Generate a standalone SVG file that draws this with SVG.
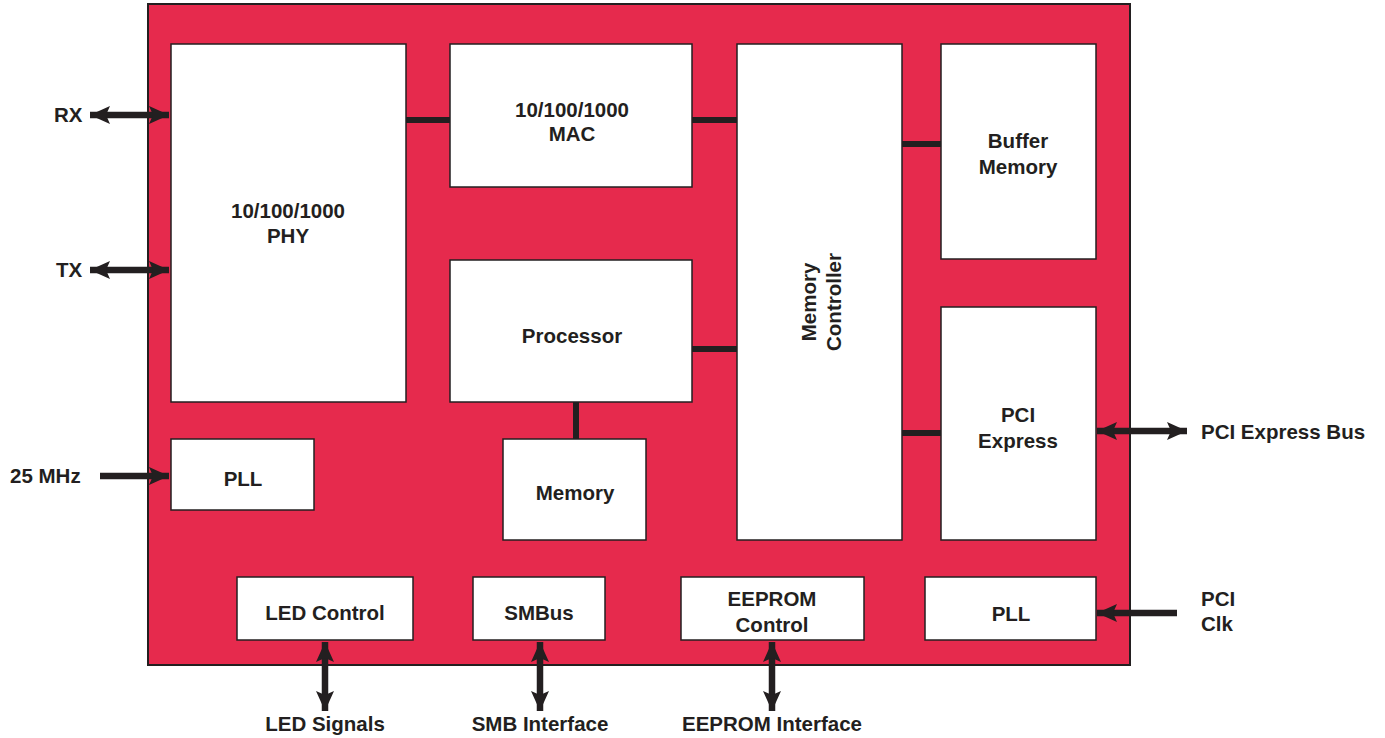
<svg xmlns="http://www.w3.org/2000/svg" width="1385" height="738" viewBox="0 0 1385 738">
<defs>
<style>
.box{fill:#fff;stroke:#231f20;stroke-width:1.5}
.t{font-family:"Liberation Sans",Arial,sans-serif;font-weight:bold;font-size:20.5px;fill:#231f20;text-anchor:middle;dominant-baseline:central}
.tl{font-family:"Liberation Sans",Arial,sans-serif;font-weight:bold;font-size:20.5px;fill:#231f20;dominant-baseline:central}
.bar{stroke:#231f20;stroke-width:6;fill:none}
.arr{stroke:#231f20;stroke-width:6.5;fill:none}
</style>
<marker id="ah" markerUnits="userSpaceOnUse" markerWidth="20" markerHeight="18" viewBox="0 0 20 18" refX="20" refY="9" orient="auto-start-reverse">
<path d="M0,0 L20,9 L0,18 L4,9 Z" fill="#231f20"/>
</marker>
</defs>
<rect x="0" y="0" width="1385" height="738" fill="#fff"/>
<g id="chip"><rect x="148" y="4" width="982" height="661" fill="#e62a4d" stroke="#231f20" stroke-width="2"/></g>

<g id="connectors">
<line class="bar" x1="406" y1="120" x2="450" y2="120"/>
<line class="bar" x1="692" y1="120" x2="737" y2="120"/>
<line class="bar" x1="692" y1="349" x2="737" y2="349"/>
<line class="bar" x1="576" y1="402" x2="576" y2="439"/>
<line class="bar" x1="902" y1="144" x2="941" y2="144"/>
<line class="bar" x1="902" y1="433" x2="941" y2="433"/>
<line class="arr" x1="90" y1="115" x2="169" y2="115" marker-start="url(#ah)" marker-end="url(#ah)"/>
<line class="arr" x1="90" y1="270" x2="169" y2="270" marker-start="url(#ah)" marker-end="url(#ah)"/>
<line class="arr" x1="100" y1="476" x2="169" y2="476" marker-end="url(#ah)"/>
<line class="arr" x1="1097" y1="431" x2="1187" y2="431" marker-start="url(#ah)" marker-end="url(#ah)"/>
<line class="arr" x1="1177" y1="613" x2="1097" y2="613" marker-end="url(#ah)"/>
<line class="arr" x1="325" y1="642" x2="325" y2="711" marker-start="url(#ah)" marker-end="url(#ah)"/>
<line class="arr" x1="540" y1="642" x2="540" y2="711" marker-start="url(#ah)" marker-end="url(#ah)"/>
<line class="arr" x1="772" y1="642" x2="772" y2="711" marker-start="url(#ah)" marker-end="url(#ah)"/>
</g>

<g id="phy"><rect class="box" x="171" y="44" width="235" height="358"/><text class="t" x="288" y="210">10/100/1000</text><text class="t" x="288" y="235">PHY</text></g>
<g id="mac"><rect class="box" x="450" y="44" width="242" height="143"/><text class="t" x="572" y="109">10/100/1000</text><text class="t" x="572" y="133">MAC</text></g>
<g id="memctrl"><rect class="box" x="737" y="44" width="165" height="496"/><text class="t" transform="translate(808,302) rotate(-90)">Memory</text><text class="t" transform="translate(833,302) rotate(-90)">Controller</text></g>
<g id="buffer"><rect class="box" x="941" y="44" width="155" height="215"/><text class="t" x="1018" y="140">Buffer</text><text class="t" x="1018" y="166">Memory</text></g>
<g id="processor"><rect class="box" x="450" y="260" width="242" height="142"/><text class="t" x="572" y="335">Processor</text></g>
<g id="pci"><rect class="box" x="941" y="307" width="155" height="233"/><text class="t" x="1018" y="414">PCI</text><text class="t" x="1018" y="440">Express</text></g>
<g id="pll1"><rect class="box" x="171" y="439" width="143" height="71"/><text class="t" x="243" y="478">PLL</text></g>
<g id="memory"><rect class="box" x="503" y="439" width="143" height="101"/><text class="t" x="575" y="492">Memory</text></g>
<g id="led"><rect class="box" x="237" y="577" width="176" height="63"/><text class="t" x="325" y="612">LED Control</text></g>
<g id="smbus"><rect class="box" x="473" y="577" width="132" height="63"/><text class="t" x="539" y="612">SMBus</text></g>
<g id="eeprom"><rect class="box" x="681" y="577" width="183" height="63"/><text class="t" x="772" y="598">EEPROM</text><text class="t" x="772" y="624">Control</text></g>
<g id="pll2"><rect class="box" x="925" y="577" width="171" height="63"/><text class="t" x="1011" y="613">PLL</text></g>

<g id="labels">
<text class="tl" x="54" y="114">RX</text>
<text class="tl" x="56" y="269">TX</text>
<text class="tl" x="10" y="475">25 MHz</text>
<text class="tl" x="1201" y="431">PCI Express Bus</text>
<text class="tl" x="1201" y="598">PCI</text>
<text class="tl" x="1201" y="623">Clk</text>
<text class="t" x="325" y="723">LED Signals</text>
<text class="t" x="540" y="723">SMB Interface</text>
<text class="t" x="772" y="723">EEPROM Interface</text>
</g>
</svg>
